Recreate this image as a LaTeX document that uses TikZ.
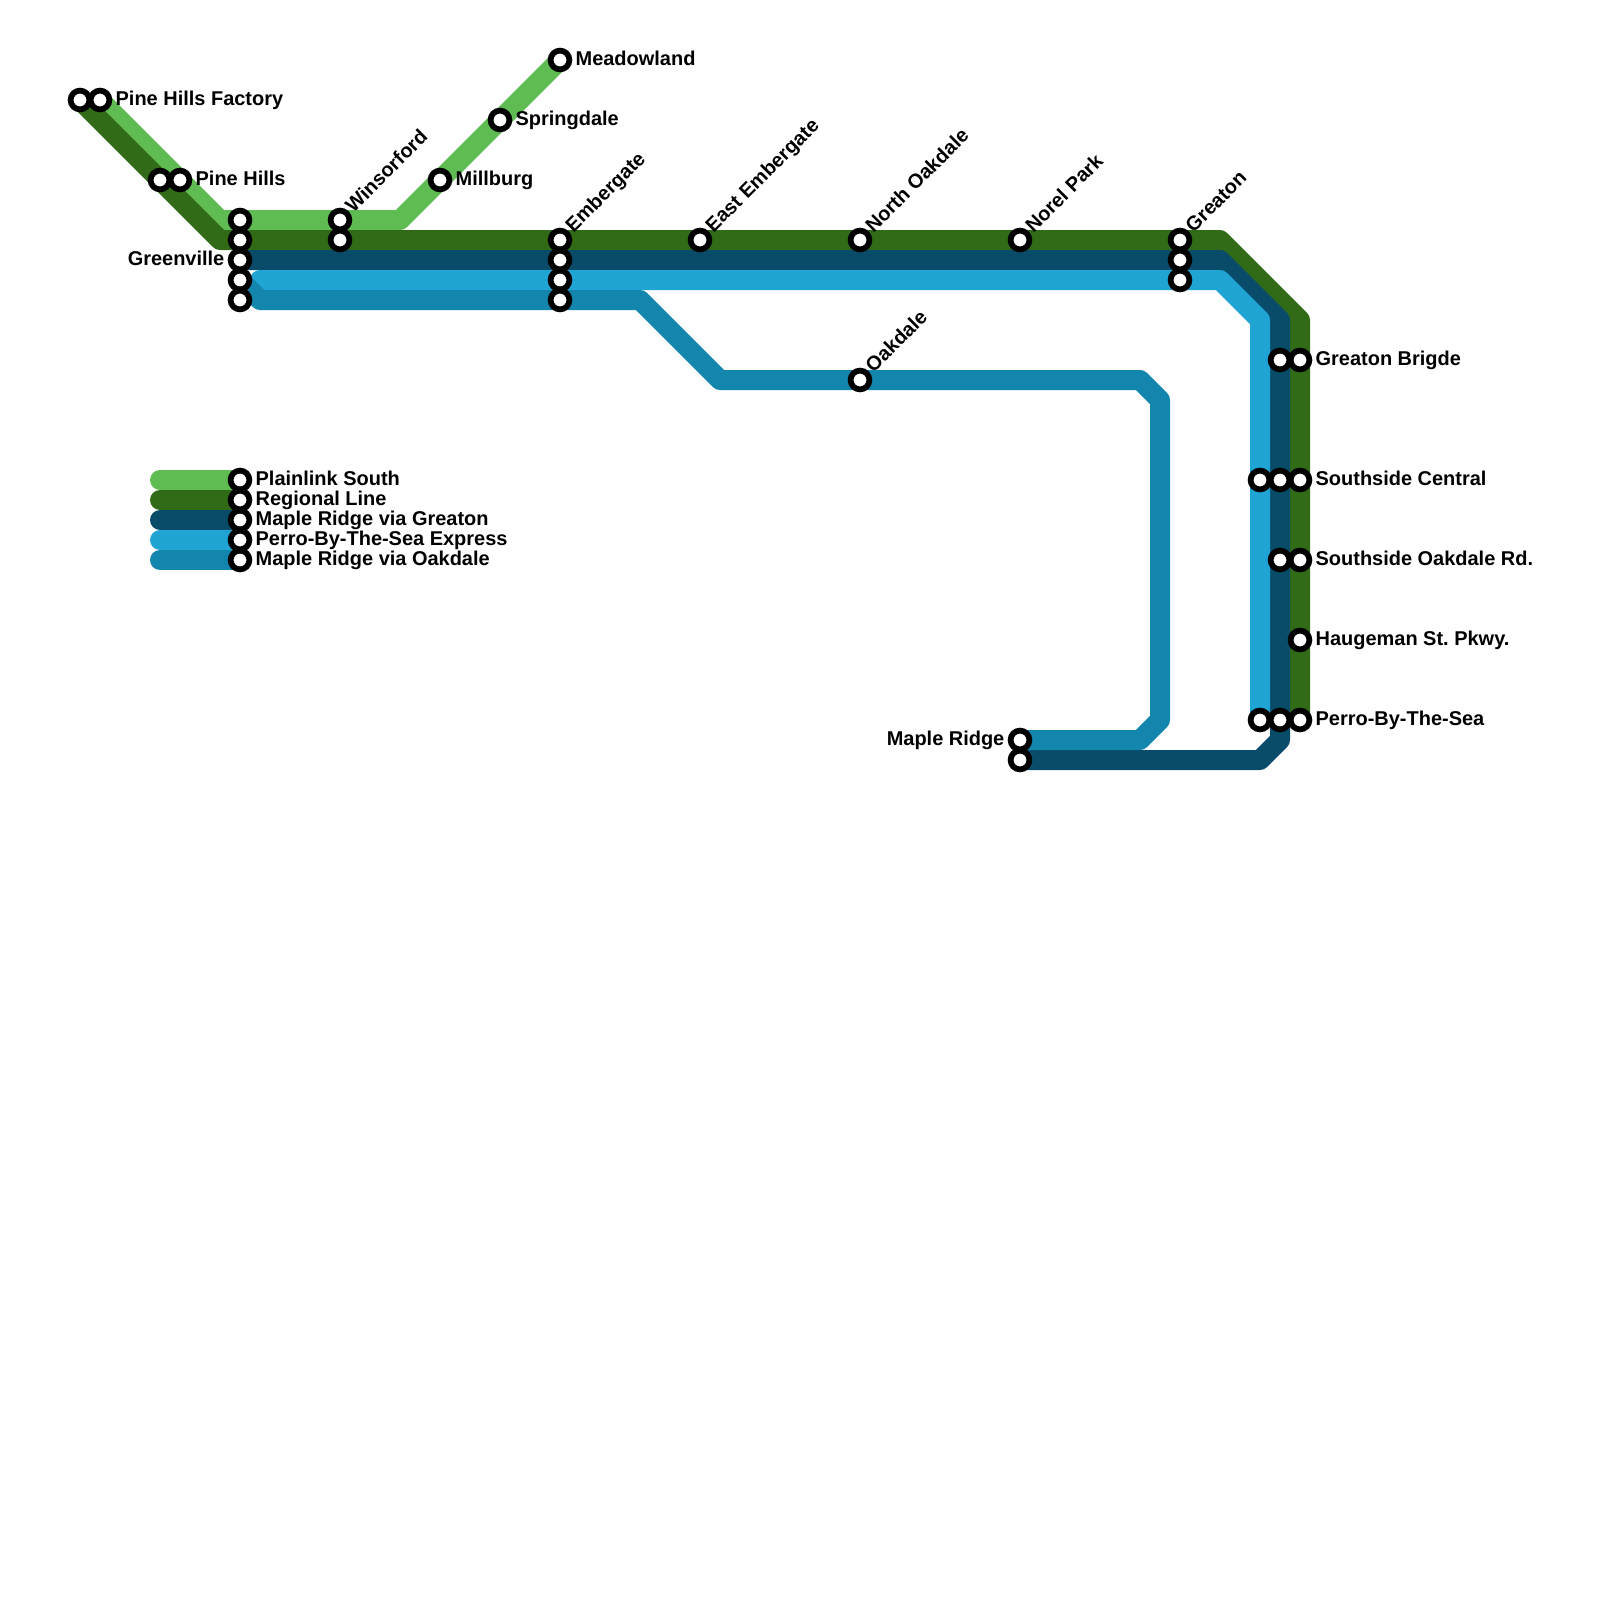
\documentclass[tikz,border=0pt]{standalone}
\usepackage{fontspec}
\setmainfont{Liberation Sans}
\usetikzlibrary{positioning,backgrounds}
\definecolor{plainlink}{HTML}{5FBC53}
\definecolor{regional}{HTML}{316B17}
\definecolor{greaton}{HTML}{084C6A}
\definecolor{perro}{HTML}{1FA4D4}
\definecolor{oakdale}{HTML}{1386AE}
\tikzset{
  rail/.style={line width=0.25cm,line cap=round,line join=round},
  stn/.style={circle,draw=black,fill=white,line width=0.072cm,minimum size=0.235cm,inner sep=0pt},
  lbl/.style={font=\fontsize{7.1}{8.5}\selectfont\bfseries\frenchspacing,inner sep=0pt,text height=5.2pt,text depth=1pt},
  lblr/.style={lbl,anchor=west},
  lblup/.style={lbl,anchor=west,rotate=45}
}
\begin{document}
\begin{tikzpicture}[x=0.25cm,y=-0.25cm]
\useasboundingbox (0,0) rectangle (80,80);
% stations on the grid
\foreach \n/\x/\y in {pa/4/5,pb/5/5,ha/8/9,hb/9/9,ga/12/11,gb/12/12,gc/12/13,gd/12/14,ge/12/15,wa/17/11,wb/17/12,
  mil/22/9,spr/25/6,mea/28/3,ea/28/12,eb/28/13,ec/28/14,ed/28/15,eem/35/12,nor/43/12,nop/51/12,
  ka/59/12,kb/59/13,kc/59/14,oak/43/19,ra/64/18,rb/65/18,sa/63/24,sb/64/24,sc/65/24,ta/64/28,tb/65/28,
  hau/65/32,za/63/36,zb/64/36,zc/65/36,ma/51/37,mb/51/38,
  ka1/12/24,ka2/12/25,ka3/12/26,ka4/12/27,ka5/12/28}
  {\node[stn] (\n) at (\x,\y) {};}
% bends
\coordinate (lb1) at (11,11);
\coordinate (lb2) at (20,11);
\coordinate (rb1) at (11,12);
\coordinate (rb2) at (61,12);
\coordinate (rb3) at (65,16);
\coordinate (gb1) at (61,13);
\coordinate (gb2) at (64,16);
\coordinate (gb3) at (64,37);
\coordinate (gb4) at (63,38);
\coordinate (pb0) at (13,14);
\coordinate (pb1) at (61,14);
\coordinate (pb2) at (63,16);
\coordinate (ob1) at (13,15);
\coordinate (ob2) at (32,15);
\coordinate (ob3) at (36,19);
\coordinate (ob4) at (57,19);
\coordinate (ob5) at (58,20);
\coordinate (ob6) at (58,36);
\coordinate (ob7) at (57,37);
\foreach \y in {24,25,26,27,28}
  {\coordinate (key\y) at (8,\y);}
\begin{pgfonlayer}{background}
\draw[rail,plainlink] (pb.center) -- (lb1) -- (lb2) -- (mea.center);
\draw[rail,regional] (pa.center) -- (rb1) -- (rb2) -- (rb3) -- (zc.center);
\draw[rail,greaton] (gc.center) -- (gb1) -- (gb2) -- (gb3) -- (gb4) -- (mb.center);
\draw[rail,perro] (pb0) -- (pb1) -- (pb2) -- (za.center);
\draw[rail,oakdale] (gd.center) -- (ob1) -- (ob2) -- (ob3) -- (ob4) -- (ob5) -- (ob6) -- (ob7) -- (ma.center);
\draw[rail,plainlink] (key24) -- (ka1.center);
\draw[rail,regional] (key25) -- (ka2.center);
\draw[rail,greaton] (key26) -- (ka3.center);
\draw[rail,perro] (key27) -- (ka4.center);
\draw[rail,oakdale] (key28) -- (ka5.center);
\end{pgfonlayer}
% labels
\foreach \a/\t in {pb/Pine Hills Factory,hb/Pine Hills,mil/Millburg,spr/Springdale,mea/Meadowland,
  rb/Greaton Brigde,sc/Southside Central,tb/Southside Oakdale Rd.,hau/Haugeman St. Pkwy.,zc/Perro-By-The-Sea,
  ka1/Plainlink South,ka2/Regional Line,ka3/Maple Ridge via Greaton,ka4/Perro-By-The-Sea Express,ka5/Maple Ridge via Oakdale}
  {\node[lblr,right=1pt of \a] (l\a) {\t};}
\foreach \a/\t in {wa/Winsorford,ea/Embergate,eem/East Embergate,nor/North Oakdale,nop/Norel Park,ka/Greaton,oak/Oakdale}
  {\node[lblup] (l\a) at ([shift={(0.45,-0.52)}]\a.center) {\t};}
\node[lbl,left=1pt of gc] (lgc) {Greenville};
\node[lbl,left=1pt of ma] (lma) {Maple Ridge};
\end{tikzpicture}
\end{document}
